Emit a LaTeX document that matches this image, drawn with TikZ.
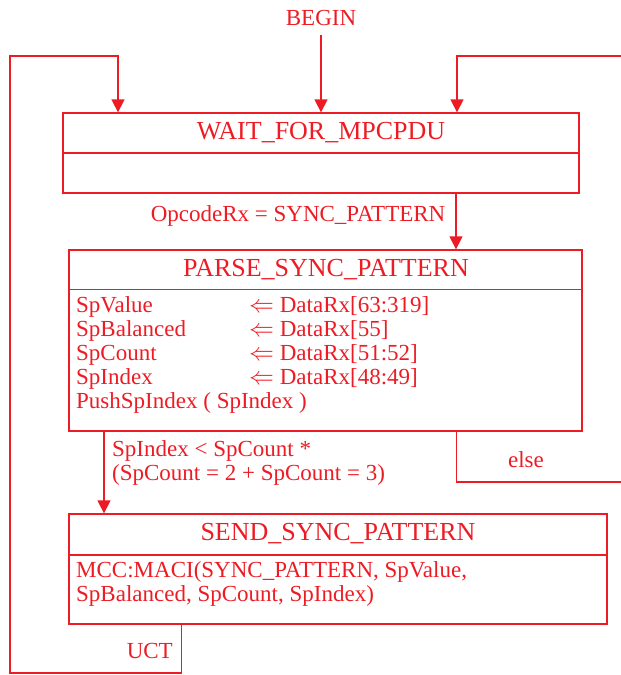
\documentclass[tikz,border=0pt]{standalone}
\usepackage{fontspec}
\setmainfont{Liberation Serif}
\usetikzlibrary{arrows.meta}
\definecolor{fr}{HTML}{ED1C24}
\begin{document}
\begin{tikzpicture}[x=1pt,y=-1pt,
  ln/.style={draw=fr,line width=1.3pt},
  arr/.style={ln,-{Triangle[length=13pt,width=13pt]}},
  box/.style={draw=fr,line width=1.3pt,rectangle,inner sep=0pt},
  title/.style={text=fr,font=\fontsize{26}{28}\selectfont,inner sep=0pt,anchor=base},
  body/.style={text=fr,font=\fontsize{23}{24}\selectfont,inner sep=0pt,anchor=base west},
  lbl/.style={text=fr,font=\fontsize{23}{24}\selectfont,inner sep=0pt}]
\useasboundingbox (0,0) rectangle (621,675);

% boxes
\node[box,minimum width=516pt,minimum height=80pt] (wait) at (321,153) {};
\node[box,minimum width=513pt,minimum height=181pt] (parse) at (325.5,340.5) {};
\node[box,minimum width=538pt,minimum height=110pt] (send) at (338,569) {};

% dividers
\draw[ln] (wait.west) -- (wait.east);
\draw[ln] ([yshift=-40pt]parse.north west) -- ([yshift=-40pt]parse.north east);
\draw[ln] ([yshift=14pt]send.west) -- ([yshift=14pt]send.east);

% titles
\node[title] (waitT) at (321,139.5) {WAIT\_FOR\_MPCPDU};
\node[title] (parseT) at (326,276) {PARSE\_SYNC\_PATTERN};
\node[title] (sendT) at (338,540) {SEND\_SYNC\_PATTERN};

% parse body
\node[body] (p1) at (76,312.5) {SpValue};
\node[body] (p2) at (76,336.5) {SpBalanced};
\node[body] (p3) at (76,360.5) {SpCount};
\node[body] (p4) at (76,384.5) {SpIndex};
\node[body] (p5) at (76,408.5) {PushSpIndex ( SpIndex )};
\node[body] (q1) at (249,312.5) {$\Leftarrow$ DataRx[63:319]};
\node[body] (q2) at (249,336.5) {$\Leftarrow$ DataRx[55]};
\node[body] (q3) at (249,360.5) {$\Leftarrow$ DataRx[51:52]};
\node[body] (q4) at (249,384.5) {$\Leftarrow$ DataRx[48:49]};

% send body
\node[body] (s1) at (76,577) {MCC:MACI(SYNC\_PATTERN, SpValue,};
\node[body] (s2) at (76,601.5) {SpBalanced, SpCount, SpIndex)};

% labels
\node[lbl,anchor=base] (begin) at (321,25) {BEGIN};
\node[lbl,anchor=base east] (opc) at (445.5,221.5) {OpcodeRx = SYNC\_PATTERN};
\node[lbl,anchor=base west] (c1) at (112,456) {SpIndex < SpCount *};
\node[lbl,anchor=base west] (c2) at (112,480.5) {(SpCount = 2 + SpCount = 3)};
\node[lbl,anchor=base] (else) at (526,467) {else};
\node[lbl,anchor=base east] (uct) at (173,658) {UCT};

% free ends
\coordinate (rin) at (621,56);
\coordinate (relse) at (621,482);
\coordinate (lb) at (10,673);
\coordinate (lt) at (10,56);

% connectors
\draw[arr] (begin.south |- 0,35) -- (begin.south |- wait.north);
\draw[arr] (rin) -| ([xshift=136pt]wait.north);
\draw[arr] ([xshift=135pt]wait.south) -- ([xshift=135pt]wait.south |- parse.north);
\draw[ln] ([xshift=131pt]parse.south) |- (relse);
\draw[arr] ([xshift=-221.5pt]parse.south) -- ([xshift=-221.5pt]parse.south |- send.north);
\draw[arr] ([xshift=-156.6pt]send.south) |- (lb) -- (lt) -| ([xshift=-203pt]wait.north);
\end{tikzpicture}
\end{document}
